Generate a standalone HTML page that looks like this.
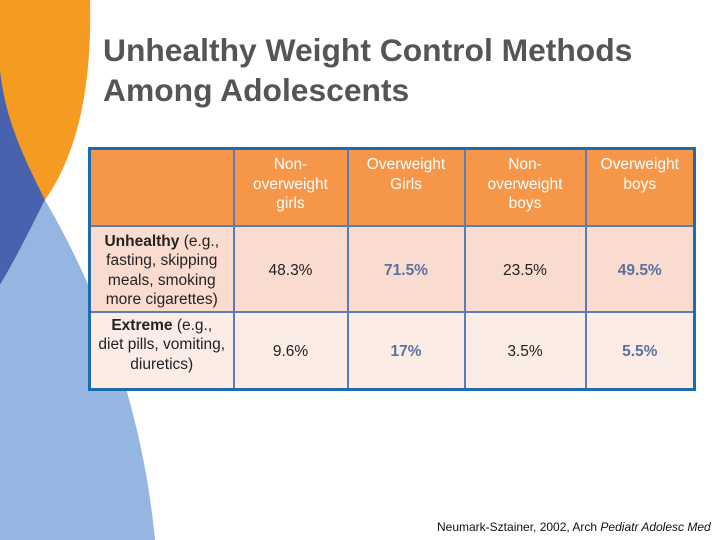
<!DOCTYPE html>
<html><head><meta charset="utf-8"><style>
body{margin:0;width:720px;height:540px;overflow:hidden;background:#fff;font-family:"Liberation Sans",sans-serif;position:relative}
svg.bg{position:absolute;left:0;top:0}
h1{position:absolute;left:103px;top:30px;margin:0;font-size:31.8px;line-height:40px;color:#555;font-weight:bold;white-space:nowrap}
table{position:absolute;left:88px;top:147px;width:605px;table-layout:fixed;border-collapse:collapse;border:3px solid #1f6bb0;font-size:15.5px;color:#222}
td{border:2px solid #5b7db5;text-align:center;vertical-align:middle;padding:0;line-height:19.5px;overflow:hidden}
tr.h td{background:#f59649;color:#fff;height:77px;vertical-align:top;padding-top:5px;box-sizing:border-box}
tr.r1 td{background:#fadbcf;height:80px;padding-top:4px}
tr.r2 td{background:#fcece6;height:72px;padding-top:3px}
.hl{color:#5a72a0;font-weight:bold}
.cite{position:absolute;left:437px;top:520px;font-size:12px;color:#111;white-space:nowrap}
</style></head><body>
<svg class="bg" width="720" height="540">
<path d="M0,70 C20,120 35,170 45,200 C30,230 15,260 0,285 Z" fill="#4862ad"/>
<path d="M0,0 L90,0 C92,80 80,150 45,200 C25,160 5,120 0,70 Z" fill="#f59b22"/>
<path d="M45,200 C80,260 140,380 155,540 L0,540 L0,285 C15,260 30,230 45,200 Z" fill="#95b6e0"/>
</svg>
<h1>Unhealthy Weight Control Methods<br>Among Adolescents</h1>
<table>
<colgroup><col style="width:144px"><col style="width:114px"><col style="width:117px"><col style="width:121px"><col style="width:109px"></colgroup>
<tr class="h">
<td></td>
<td>Non-<br>overweight<br>girls</td>
<td>Overweight<br>Girls</td>
<td>Non-<br>overweight<br>boys</td>
<td>Overweight<br>boys</td></tr>
<tr class="r1">
<td><b>Unhealthy</b> (e.g.,<br>fasting, skipping<br>meals, smoking<br>more cigarettes)</td>
<td>48.3%</td><td class="hl">71.5%</td><td>23.5%</td><td class="hl">49.5%</td></tr>
<tr class="r2">
<td style="vertical-align:top;padding-top:3px"><b>Extreme</b> (e.g.,<br>diet pills, vomiting,<br>diuretics)</td>
<td>9.6%</td><td class="hl">17%</td><td>3.5%</td><td class="hl">5.5%</td></tr>
</table>
<div class="cite">Neumark-Sztainer, 2002, Arch <i>Pediatr Adolesc Med</i></div>
</body></html>
